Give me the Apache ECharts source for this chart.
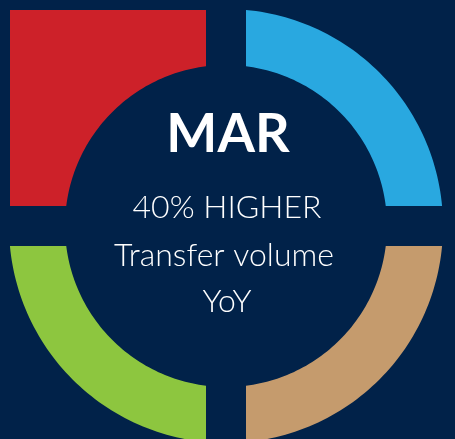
<!DOCTYPE html>
<html>
<head>
<meta charset="utf-8">
<script src="https://cdn.jsdelivr.net/npm/echarts@6/dist/echarts.min.js"></script>
<style>
  html, body { margin: 0; padding: 0; background: #012249; }
  #chart { width: 455px; height: 439px; }
</style>
</head>
<body>
<div id="chart"></div>
<script>
// quadrants, clockwise from top-left
var segNames = ['Q1', 'Q2', 'Q3', 'Q4']
var segFilled = [1, 0, 0, 0]          // 1 = full corner block, 0 = ring arc
var segSignX = [-1, 1, -1, 1]
var segSignY = [1, 1, -1, -1]
var segColors = ['#cd2129', '#29a8e0', '#8dc63f', '#c59b6d']

var headline = 'MAR'
var lines = ['40% HIGHER', 'Transfer volume', 'YoY']

// geometry (pixels, center of ring is 0,0)
var R_IN = 161, R_OUT = 217, GAP = 20, CORNER = 216

function quadPoints (filled) {
  var pts = []
  var n = 60
  var yIn = Math.sqrt(R_IN * R_IN - GAP * GAP)
  if (filled) {
    pts.push([GAP, yIn], [GAP, CORNER], [CORNER, CORNER], [CORNER, GAP])
  } else {
    var a0 = Math.atan2(Math.sqrt(R_OUT * R_OUT - GAP * GAP), GAP)
    var a1 = Math.atan2(GAP, Math.sqrt(R_OUT * R_OUT - GAP * GAP))
    for (var i = 0; i <= n; i++) {
      var a = a0 + (a1 - a0) * i / n
      pts.push([R_OUT * Math.cos(a), R_OUT * Math.sin(a)])
    }
  }
  // inner arc back
  var b0 = Math.atan2(GAP, yIn)
  var b1 = Math.atan2(yIn, GAP)
  for (var j = 0; j <= n; j++) {
    var b = b0 + (b1 - b0) * j / n
    pts.push([R_IN * Math.cos(b), R_IN * Math.sin(b)])
  }
  return pts
}

var chart = echarts.init(document.getElementById('chart'))
var option = {
  backgroundColor: '#012249',
  animation: false,
  grid: { left: 0, right: 0, top: 0, bottom: 0 },
  xAxis: { type: 'value', min: -226, max: 229, show: false },
  yAxis: { type: 'value', min: -213, max: 226, show: false },
  series: [{
    type: 'custom',
    data: segNames.map(function (n, i) { return [i, segFilled[i]] }),
    renderItem: function (params, api) {
      var i = api.value(0)
      var pts = quadPoints(api.value(1) === 1).map(function (p) {
        return api.coord([p[0] * segSignX[i], p[1] * segSignY[i]])
      })
      return {
        type: 'polygon',
        shape: { points: pts },
        style: { fill: segColors[i] }
      }
    }
  }],
  graphic: [
    { type: 'text', x: 228, y: 135, style: { text: headline, fill: '#fff', font: 'bold 54px Lato', textAlign: 'center', textVerticalAlign: 'middle' } },
    { type: 'text', x: 227, y: 208, style: { text: lines[0], fill: '#fff', font: '300 32px Lato', textAlign: 'center', textVerticalAlign: 'middle' } },
    { type: 'text', x: 224, y: 256, style: { text: lines[1], fill: '#fff', font: '300 32px Lato', textAlign: 'center', textVerticalAlign: 'middle' } },
    { type: 'text', x: 227, y: 302, style: { text: lines[2], fill: '#fff', font: '300 32px Lato', textAlign: 'center', textVerticalAlign: 'middle' } }
  ]
}
chart.setOption(option)
</script>
</body>
</html>
